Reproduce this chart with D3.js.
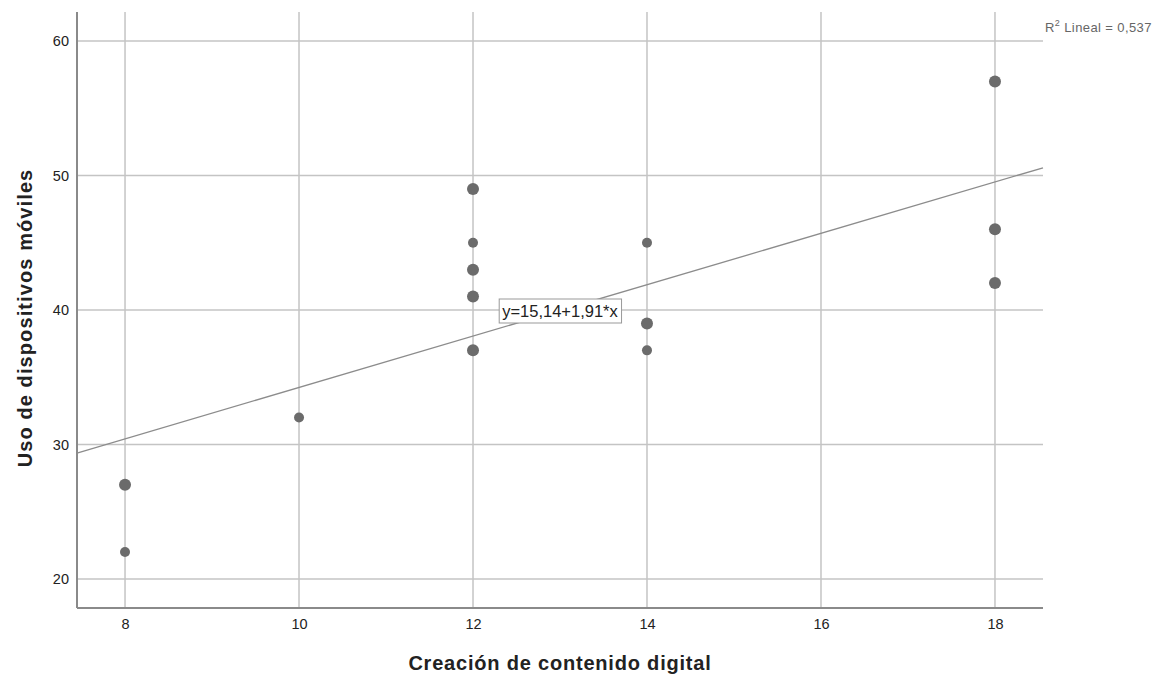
<!DOCTYPE html>
<html><head><meta charset="utf-8">
<script src="https://cdn.jsdelivr.net/npm/d3@7/dist/d3.min.js"></script>
<style>body{margin:0;background:#fff;}svg{display:block;}</style>
</head><body><svg id="c" width="1170" height="684"></svg>
<script>
const xValues = [8, 8, 10, 12, 12, 12, 12, 12, 14, 14, 14, 18, 18, 18];
const yValues = [27, 22, 32, 49, 45, 43, 41, 37, 45, 39, 37, 57, 46, 42];
const counts  = [2, 1, 1, 2, 1, 2, 2, 2, 1, 2, 1, 2, 2, 2];
const xTicks = [8, 10, 12, 14, 16, 18];
const yTicks = [20, 30, 40, 50, 60];
const intercept = 15.14, slope = 1.91;
const fitLabel = "y=15,14+1,91*x";
const r2Label = "0,537";
const xTitle = "Creación de contenido digital";
const yTitle = "Uso de dispositivos móviles";

const svg = d3.select("#c");
const L = 77, R = 1043, T = 12, B = 608;
const x = d3.scaleLinear().domain([7.448, 18.552]).range([L, R]);
const y = d3.scaleLinear().domain([17.84, 62.16]).range([B, T]);
const font = "Arial, 'Liberation Sans', sans-serif";

// grid
svg.append("g").selectAll("line").data(yTicks).join("line")
  .attr("x1", L).attr("x2", R).attr("y1", d => y(d)).attr("y2", d => y(d))
  .attr("stroke", "#c4c4c4").attr("stroke-width", 1.5);
svg.append("g").selectAll("line").data(xTicks).join("line")
  .attr("y1", T).attr("y2", B).attr("x1", d => x(d)).attr("x2", d => x(d))
  .attr("stroke", "#c4c4c4").attr("stroke-width", 1.5);

// axes
const xAxis = svg.append("g").attr("transform", `translate(0,${B})`)
  .call(d3.axisBottom(x).tickValues(xTicks).tickSize(0).tickPadding(11).tickFormat(d3.format("d")));
const yAxis = svg.append("g").attr("transform", `translate(${L},0)`)
  .call(d3.axisLeft(y).tickValues(yTicks).tickSize(0).tickPadding(8).tickFormat(d3.format("d")));
[xAxis, yAxis].forEach(a => {
  a.attr("font-size", 14.5).attr("font-family", font);
  a.select(".domain").attr("stroke", "#8a8a8a").attr("stroke-width", 2);
  a.selectAll("text").attr("fill", "#222");
});
xAxis.select(".domain").attr("d", `M${L},0H${R}`);
yAxis.select(".domain").attr("d", `M0,${T}V${B}`);

// fit line
const [x0, x1] = x.domain();
svg.append("line")
  .attr("x1", x(x0)).attr("y1", y(intercept + slope * x0))
  .attr("x2", x(x1)).attr("y2", y(intercept + slope * x1))
  .attr("stroke", "#8c8c8c").attr("stroke-width", 1.3);

// points
svg.append("g").selectAll("circle").data(xValues.map((d, i) => ({x: d, y: yValues[i], n: counts[i]})))
  .join("circle")
  .attr("cx", d => x(d.x)).attr("cy", d => y(d.y))
  .attr("r", d => d.n > 1 ? 6 : 5)
  .attr("fill", "#6b6b6b");

// fit label
const lx = 560, ly = y(40) + 1;
const box = svg.append("rect");
const lt = svg.append("text").attr("x", lx).attr("y", ly).attr("text-anchor", "middle")
  .attr("dominant-baseline", "central").attr("font-family", font).attr("font-size", 16.5)
  .attr("fill", "#222").text(fitLabel);
const bb = lt.node().getBBox();
box.attr("x", bb.x - 3).attr("y", bb.y - 3).attr("width", bb.width + 6).attr("height", bb.height + 6)
  .attr("fill", "#fff").attr("stroke", "#999").attr("stroke-width", 1);

// R2 label
const r2 = svg.append("text").attr("x", 1045).attr("y", 32).attr("font-family", font)
  .attr("font-size", 13).attr("letter-spacing", 0.4).attr("fill", "#666");
r2.append("tspan").text("R");
r2.append("tspan").attr("dy", -6).attr("font-size", 9).text("2");
r2.append("tspan").attr("dy", 6).text(" Lineal = " + r2Label);

// titles
svg.append("text").attr("x", 560).attr("y", 670).attr("text-anchor", "middle")
  .attr("font-family", font).attr("font-weight", "bold").attr("font-size", 20)
  .attr("letter-spacing", 0.8).attr("fill", "#222").text(xTitle);
svg.append("text").attr("transform", `translate(32,318) rotate(-90)`).attr("text-anchor", "middle")
  .attr("font-family", font).attr("font-weight", "bold").attr("font-size", 20)
  .attr("letter-spacing", 1.1).attr("fill", "#222").text(yTitle);
</script></body></html>
